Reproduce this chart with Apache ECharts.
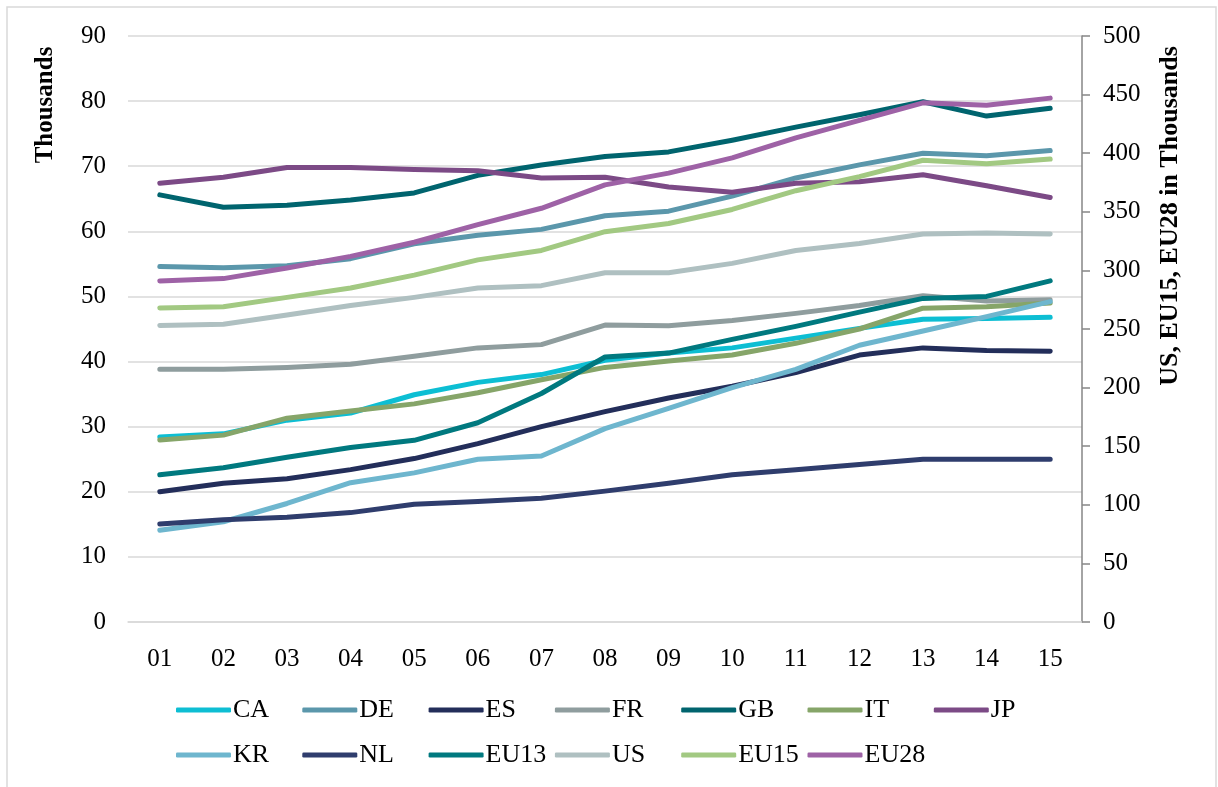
<!DOCTYPE html>
<html>
<head>
<meta charset="utf-8">
<title>Thousands trend</title>
<script src="https://cdn.jsdelivr.net/npm/echarts@6/dist/echarts.min.js"></script>
<style>
    html, body {
        margin: 0;
        padding: 0;
        background: #fff;
    }
    #trendMap {
        width: 1218px;
        height: 787px;
    }
</style>
</head>
<body>
<div id="trendMap"></div>
<script>
    // 年份
    var years = ['01', '02', '03', '04', '05', '06', '07', '08', '09', '10', '11', '12', '13', '14', '15']

    // 左轴（千）
    var CA = [28.4, 28.9, 31.0, 32.1, 34.9, 36.8, 38.0, 40.2, 41.3, 42.1, 43.6, 45.1, 46.5, 46.6, 46.8]
    var DE = [54.6, 54.4, 54.7, 55.8, 58.1, 59.4, 60.3, 62.4, 63.1, 65.4, 68.2, 70.2, 72.0, 71.6, 72.4]
    var ES = [20.0, 21.3, 22.0, 23.4, 25.1, 27.4, 30.0, 32.3, 34.4, 36.2, 38.3, 41.0, 42.1, 41.7, 41.6]
    var FR = [38.8, 38.8, 39.1, 39.6, 40.8, 42.1, 42.6, 45.6, 45.5, 46.3, 47.4, 48.6, 50.1, 49.3, 49.5]
    var GB = [65.6, 63.7, 64.0, 64.8, 65.9, 68.6, 70.2, 71.5, 72.2, 74.0, 76.0, 77.9, 79.9, 77.7, 78.9]
    var IT = [27.95, 28.7, 31.3, 32.4, 33.5, 35.2, 37.2, 39.1, 40.1, 41.0, 42.8, 45.0, 48.2, 48.4, 49.0]
    var JP = [67.4, 68.3, 69.8, 69.8, 69.5, 69.3, 68.2, 68.3, 66.8, 66.0, 67.4, 67.6, 68.7, 67.0, 65.2]
    var KR = [14.1, 15.4, 18.2, 21.4, 22.9, 25.0, 25.5, 29.7, 32.8, 36.0, 38.8, 42.5, 44.7, 46.9, 49.2]
    var NL = [15.05, 15.7, 16.1, 16.8, 18.1, 18.5, 19.0, 20.1, 21.3, 22.6, 23.4, 24.2, 25.0, 25.0, 25.0]
    var EU13 = [22.6, 23.7, 25.3, 26.8, 27.9, 30.6, 35.1, 40.7, 41.3, 43.4, 45.4, 47.6, 49.7, 50.0, 52.4]

    // 右轴（千）
    var US = [253, 254, 262, 270, 277, 285, 287, 298, 298, 306, 317, 323, 331, 332, 331]
    var EU15 = [268, 269, 277, 285, 296, 309, 317, 333, 340, 352, 368, 380, 394, 391, 395]
    var EU28 = [291, 293, 302, 312, 324, 339, 353, 373, 383, 396, 413, 428, 443, 441, 447]

    var leftTicks = [0, 10, 20, 30, 40, 50, 60, 70, 80, 90]
    var rightTicks = [0, 50, 100, 150, 200, 250, 300, 350, 400, 450, 500]

    var seriesList = [
        {name: 'CA', data: CA, color: '#0DBED3', axis: 0},
        {name: 'DE', data: DE, color: '#5B97AB', axis: 0},
        {name: 'ES', data: ES, color: '#232E5A', axis: 0},
        {name: 'FR', data: FR, color: '#8F9D9E', axis: 0},
        {name: 'GB', data: GB, color: '#00646E', axis: 0},
        {name: 'IT', data: IT, color: '#86A569', axis: 0},
        {name: 'JP', data: JP, color: '#7C4A86', axis: 0},
        {name: 'KR', data: KR, color: '#6EB6CE', axis: 0},
        {name: 'NL', data: NL, color: '#2F3D6D', axis: 0},
        {name: 'EU13', data: EU13, color: '#00797F', axis: 0},
        {name: 'US', data: US, color: '#AFC0C1', axis: 1},
        {name: 'EU15', data: EU15, color: '#A2C982', axis: 1},
        {name: 'EU28', data: EU28, color: '#9E62A6', axis: 1}
    ]

    var font = '"Liberation Serif", "Times New Roman", serif'

    // 图例：7列两行
    var legends = seriesList.map(function (s, i) {
        return {
            data: [s.name],
            left: 176 + (i % 7) * 126.3,
            top: i < 7 ? 697 : 742,
            icon: 'roundRect',
            itemWidth: 55,
            itemHeight: 5,
            itemGap: 0,
            padding: 0,
            textStyle: {
                fontFamily: font,
                fontSize: 26,
                color: '#000',
                padding: [0, 0, 0, -3]
            }
        }
    })

    var trendMap = echarts.init(document.getElementById('trendMap'))
    trendMap.setOption({
        animation: false,
        color: seriesList.map(function (s) { return s.color }),
        grid: {
            left: 128,
            right: 136,
            top: 36,
            bottom: 165
        },
        legend: legends,
        xAxis: {
            type: 'category',
            data: years,
            boundaryGap: true,
            axisLine: {lineStyle: {color: '#D9D9D9', width: 1.5}},
            axisTick: {show: false},
            axisLabel: {
                fontFamily: font,
                fontSize: 25,
                color: '#000',
                margin: 25
            }
        },
        yAxis: [
            {
                type: 'value',
                min: leftTicks[0],
                max: leftTicks[leftTicks.length - 1],
                interval: 10,
                axisLine: {show: false},
                axisTick: {show: false},
                splitLine: {lineStyle: {color: '#D9D9D9', width: 1.5}},
                axisLabel: {
                    fontFamily: font,
                    fontSize: 25,
                    color: '#000',
                    margin: 22
                }
            },
            {
                type: 'value',
                position: 'right',
                min: rightTicks[0],
                max: rightTicks[rightTicks.length - 1],
                interval: 50,
                axisLine: {show: true, lineStyle: {color: '#868686', width: 1.5}},
                axisTick: {show: true, length: 8, lineStyle: {color: '#868686', width: 1.5}},
                splitLine: {show: false},
                axisLabel: {
                    fontFamily: font,
                    fontSize: 25,
                    color: '#000',
                    margin: 21
                }
            }
        ],
        graphic: [
            {
                type: 'rect',
                shape: {x: 7, y: 7, width: 1209, height: 800},
                style: {fill: 'none', stroke: '#D9D9D9', lineWidth: 1.5},
                silent: true
            },
            {
                type: 'text',
                x: 46,
                y: 105,
                rotation: Math.PI / 2,
                style: {
                    text: 'Thousands',
                    font: 'bold 25px ' + font,
                    fill: '#000',
                    textAlign: 'center',
                    textVerticalAlign: 'middle'
                }
            },
            {
                type: 'text',
                x: 1170,
                y: 216,
                rotation: Math.PI / 2,
                style: {
                    text: 'US, EU15, EU28 in Thousands',
                    font: 'bold 26px ' + font,
                    fill: '#000',
                    textAlign: 'center',
                    textVerticalAlign: 'middle'
                }
            }
        ],
        series: seriesList.map(function (s) {
            return {
                name: s.name,
                type: 'line',
                yAxisIndex: s.axis,
                data: s.data,
                symbol: 'none',
                lineStyle: {width: 5, color: s.color, cap: 'round', join: 'round'},
                itemStyle: {color: s.color}
            }
        })
    })
    window.onresize = function () {
        trendMap.resize()
    }
</script>
</body>
</html>
